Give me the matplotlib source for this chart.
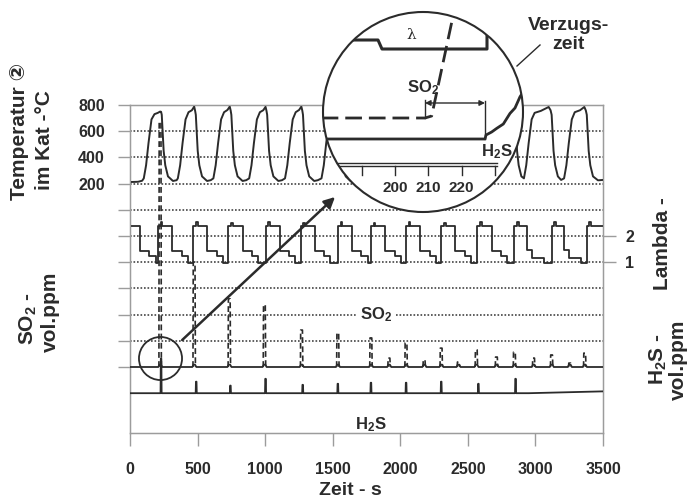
import matplotlib
matplotlib.use("Agg")
import matplotlib.pyplot as plt
from matplotlib.patches import Circle

plt.rcParams['font.family'] = ['Liberation Sans', 'DejaVu Sans', 'Noto Sans CJK JP']
plt.rcParams['font.weight'] = 'bold'
plt.rcParams['mathtext.fontset'] = 'custom'
plt.rcParams['mathtext.rm'] = 'Liberation Sans:bold'
plt.rcParams['mathtext.it'] = 'Liberation Sans:bold'
plt.rcParams['mathtext.bf'] = 'Liberation Sans:bold'

INK = '#2b2b2b'
GRID = '#444444'
FRAME = '#9c9c9c'

# ---- Achsen / Beschriftung ----
zeit_ticks = [0, 500, 1000, 1500, 2000, 2500, 3000, 3500]
temp_ticks = [200, 400, 600, 800]
temp_minor = [-1200, -1000, -800, -600, -400, -200, 0]
grid_levels = [600, 400, 200, 0, -200, -400, -600, -800, -1000]
lambda_ticks = [1, 2]

# ---- Temperatur im Kat (°C) ----
temp_t = [0, 60, 90,
          102, 119, 137, 159, 181, 206, 223, 230, 235, 241, 249, 261, 281, 318, 345,
          354, 371, 389, 411, 433, 458, 475, 482, 487, 493, 501, 513, 533, 570, 597,
          617, 634, 652, 674, 696, 721, 738, 745, 750, 756, 764, 776, 796, 833, 860,
          882, 899, 917, 939, 961, 986, 1003, 1010, 1015, 1021, 1029, 1041, 1061, 1098, 1125,
          1147, 1164, 1182, 1204, 1226, 1251, 1268, 1275, 1280, 1286, 1294, 1306, 1326, 1363, 1390,
          1417, 1434, 1452, 1474, 1496, 1521, 1538, 1545, 1550, 1556, 1564, 1576, 1596, 1633, 1660,
          1677, 1694, 1712, 1734, 1756, 1781, 1798, 1805, 1810, 1816, 1824, 1836, 1856, 1893, 1920,
          1937, 1954, 1972, 1994, 2016, 2041, 2058, 2065, 2070, 2076, 2084, 2096, 2116, 2153, 2180,
          2197, 2214, 2232, 2254, 2276, 2301, 2318, 2325, 2330, 2336, 2344, 2356, 2376, 2413, 2440,
          2457, 2474, 2492, 2514, 2536, 2561, 2578, 2585, 2590, 2596, 2604, 2616, 2636, 2673, 2700,
          2717, 2734, 2752, 2774, 2796, 2821, 2838, 2845, 2850, 2856, 2864, 2876, 2896,
          2915, 2932, 2950, 2972, 2994, 3040, 3098, 3112, 3120, 3126, 3134, 3146, 3166, 3190,
          3212, 3229, 3247, 3269, 3291, 3330, 3362, 3373, 3380, 3386, 3394, 3406, 3426, 3463, 3500]
temp_v = [212, 214, 222,
          240, 340, 510, 690, 730, 740, 750, 748, 725, 600, 450, 340, 255, 220, 226,
          240, 340, 510, 690, 745, 760, 788, 755, 725, 600, 450, 340, 255, 220, 226,
          240, 340, 510, 690, 745, 762, 788, 757, 725, 600, 450, 340, 255, 220, 226,
          240, 340, 510, 690, 745, 760, 786, 755, 725, 600, 450, 340, 255, 220, 226,
          240, 340, 510, 690, 745, 762, 788, 757, 725, 600, 450, 340, 255, 220, 226,
          240, 340, 510, 690, 745, 760, 785, 755, 725, 600, 450, 340, 255, 220, 226,
          240, 340, 510, 690, 745, 760, 785, 755, 725, 600, 450, 340, 255, 220, 226,
          240, 340, 510, 690, 745, 760, 785, 755, 725, 600, 450, 340, 255, 220, 226,
          240, 340, 510, 690, 745, 760, 785, 755, 725, 600, 450, 340, 255, 220, 226,
          240, 340, 510, 690, 745, 760, 785, 755, 725, 600, 450, 340, 255, 220, 226,
          240, 340, 510, 690, 745, 760, 785, 755, 725, 600, 450, 340, 255,
          240, 340, 510, 690, 740, 755, 785, 760, 725, 600, 450, 340, 255, 228,
          240, 340, 510, 690, 745, 760, 785, 758, 725, 600, 450, 340, 255, 225, 228]

# ---- Lambda (Stufen) ----
lam_t = [0, 75, 140, 190,
         208, 228, 240, 313, 383, 428,
         468, 488, 500, 573, 643, 688,
         728, 748, 760, 833, 903, 948,
         1003, 1023, 1035, 1108, 1178, 1223,
         1263, 1283, 1295, 1368, 1438, 1483,
         1538, 1558, 1570, 1643, 1713, 1758,
         1783, 1803, 1815, 1888, 1958, 2003,
         2043, 2063, 2075, 2148, 2218, 2263,
         2303, 2323, 2335, 2408, 2478, 2523,
         2571, 2591, 2603, 2676, 2746, 2791,
         2845, 2865, 2877, 2935, 2975, 3060,
         3120, 3140, 3152, 3210, 3250, 3335,
         3380, 3400, 3412, 3500]
lam_v = [2.38, 1.42, 1.22, 0.98,
         2.38, 2.52, 2.38, 1.42, 1.22, 0.98,
         2.38, 2.55, 2.38, 1.42, 1.22, 0.98,
         2.38, 2.50, 2.38, 1.42, 1.22, 0.98,
         2.38, 2.55, 2.38, 1.42, 1.22, 0.98,
         2.38, 2.50, 2.38, 1.42, 1.22, 0.98,
         2.38, 2.52, 2.38, 1.42, 1.22, 0.98,
         2.38, 2.50, 2.38, 1.42, 1.22, 0.98,
         2.38, 2.52, 2.38, 1.42, 1.22, 0.98,
         2.38, 2.50, 2.38, 1.42, 1.22, 0.98,
         2.38, 2.52, 2.38, 1.42, 1.22, 0.98,
         2.38, 2.55, 2.38, 1.45, 1.15, 0.98,
         2.38, 2.52, 2.38, 1.45, 1.15, 0.98,
         2.38, 2.55, 2.38, 2.38]

# ---- SO2-Spitzen (vol.ppm, Raster = 100) ----
so2_t = [223, 475, 735, 995, 1270, 1538, 1783, 1917, 2043, 2177, 2303, 2430,
         2563, 2712, 2845, 2987, 3120, 3254, 3365]
so2_h = [935, 400, 260, 237, 141, 130, 111, 34, 92, 27, 72, 19,
         65, 38, 57, 34, 46, 15, 53]

# ---- H2S-Spitzen ----
h2s_t = [230, 490, 743, 1003, 1278, 1538, 1783, 2043, 2303, 2578, 2853]
h2s_h = [132, 44, 29, 55, 32, 36, 40, 40, 44, 36, 55]
h2s_tail_t = [2950, 3500]
h2s_tail_v = [0, 7]

# ---- Lupe (Ausschnitt 180-238 s) ----
zoom_ticks = [190, 200, 210, 220, 230]
zoom_labels = ['', '200', '210', '220', '']
zoom_lam_t = [178, 194.9, 196.1, 227.6, 227.6]
zoom_lam_v = [86, 86, 81.5, 81.5, 100]
zoom_so2_t = [178, 209, 211, 218.7]
zoom_so2_v = [47, 47, 48, 108]
zoom_h2s_t = [178, 227, 227.3, 229, 230.5, 232.5, 234.5, 236, 237.5, 240]
zoom_h2s_v = [36.5, 36.5, 38.5, 40, 41.8, 44, 49.3, 52, 57.6, 64]
verzug = [209, 227]

W, H = 689, 498


def fx(px):
    return px / W


def fy(py):
    return 1 - py / H


fig = plt.figure(figsize=(6.89, 4.98), dpi=100)
ax = fig.add_axes([fx(130), fy(432.5), fx(603) - fx(130), fy(105) - fy(432.5)])
ax.set_xlim(0, 3500)
ax.set_ylim(-1700, 800)

for lvl in grid_levels:
    ax.axhline(lvl, color=GRID, lw=1.2, ls=(0, (1, 1.1)), zorder=1)

ax.set_xticks(zeit_ticks)
ax.set_xticklabels([str(v) for v in zeit_ticks])
ax.set_yticks(temp_ticks)
ax.set_yticklabels([str(v) for v in temp_ticks])
ax.set_yticks(temp_minor, minor=True)
ax.tick_params(axis='x', length=9, width=1, color=FRAME, pad=12, labelsize=11.5, labelcolor=INK)
ax.tick_params(axis='y', which='both', length=9, width=1, color=FRAME, pad=9, labelsize=11.5,
               labelcolor=INK)
for sp in ax.spines.values():
    sp.set_color(FRAME)
    sp.set_linewidth(1)

ax.plot(temp_t, temp_v, color=INK, lw=1.4, zorder=3)

ax.text(1820, -800, 'SO$_2$', ha='center', va='center', fontsize=12, color=INK,
        bbox=dict(fc='white', ec='none', pad=2.5), zorder=2)
ax.text(1783, -1643, 'H$_2$S', ha='center', va='center', fontsize=12, color=INK)

# Lambda
ax_lam = ax.twinx()
ax_lam.set_ylim(-5.5, 7)
ax_lam.set_yticks(lambda_ticks)
ax_lam.set_yticklabels([str(v) for v in lambda_ticks])
ax_lam.tick_params(axis='y', length=9, width=1, color=FRAME, pad=7, labelsize=11.5, labelcolor=INK)
for sp in ax_lam.spines.values():
    sp.set_color(FRAME)
ax_lam.plot(lam_t, lam_v, drawstyle='steps-post', color=INK, lw=1.3)

# SO2
ax_so2 = ax.twinx()
ax_so2.set_ylim(-250, 1000)
ax_so2.axis('off')
base_t, base_v = [0], [0]
for t, h in zip(so2_t, so2_h):
    base_t += [t - 14, t - 5, t + 6, t + 16]
    base_v += [0, min(h, 9), min(h, 9), 0]
base_t.append(3500)
base_v.append(0)
ax_so2.plot(base_t, base_v, color=INK, lw=1.3)
for t, h in zip(so2_t, so2_h):
    ax_so2.plot([t - 9, t - 7, t + 6, t + 9], [0, h, h, 0], color=INK, lw=1.2, dashes=(3.5, 2))

# H2S
ax_h2s = ax.twinx()
ax_h2s.set_ylim(-150, 1100)
ax_h2s.axis('off')
hs_t, hs_v = [0], [0]
for t, h in zip(h2s_t, h2s_h):
    hs_t += [t - 4, t - 2, t + 2, t + 4]
    hs_v += [0, h, h, 0]
hs_t += h2s_tail_t
hs_v += h2s_tail_v
ax_h2s.plot(hs_t, hs_v, color=INK, lw=1.3)

# kleiner Kreis um die erste Spitze
ax.plot([so2_t[0]], [-1135], 'o', ms=31, mfc='none', mec=INK, mew=1.3, zorder=4, clip_on=False)

# Lupe
ax_in = fig.add_axes([fx(323), fy(212), fx(523) - fx(323), fy(12) - fy(212)])
ax_in.set_xlim(178.4, 238.4)
ax_in.set_ylim(0, 100)
ax_in.axis('off')
lupe = Circle((0.5, 0.5), 0.5, transform=ax_in.transAxes, fc='white', ec=INK, lw=1.5,
              clip_on=False, zorder=0)
ax_in.add_patch(lupe)

lines = []
lines += ax_in.plot(zoom_lam_t, zoom_lam_v, color=INK, lw=2.2)
lines += ax_in.plot(zoom_so2_t, zoom_so2_v, color=INK, lw=2, dashes=(6, 2.5))
lines += ax_in.plot(zoom_h2s_t, zoom_h2s_v, color=INK, lw=2)
lines += ax_in.plot([verzug[0], verzug[0]], [47, 56], color=INK, lw=1)
lines += ax_in.plot([verzug[1], verzug[1]], [36.5, 55.5], color=INK, lw=1)
lines += ax_in.plot([183, 230.6], [24.5, 24.5], color=INK, lw=1)
lines += ax_in.plot([183, 230.6], [23, 23], color=INK, lw=1)
for t in zoom_ticks:
    lines += ax_in.plot([t, t], [23, 18.5], color=INK, lw=1)
for ln in lines:
    ln.set_clip_path(lupe)
ax_in.annotate('', xy=(verzug[0], 54.5), xytext=(verzug[1], 54.5),
               arrowprops=dict(arrowstyle='<|-|>', lw=1, color=INK, mutation_scale=8,
                               shrinkA=0, shrinkB=0))
for t, lab in zip(zoom_ticks, zoom_labels):
    ax_in.text(t, 12, lab, ha='center', va='center', fontsize=11, color=INK)
ax_in.text(205, 88.5, 'λ', ha='center', va='center', fontsize=11, color=INK,
           family='DejaVu Serif', fontweight='normal')
ax_in.text(208.4, 62, 'SO$_2$', ha='center', va='center', fontsize=12, color=INK)
ax_in.text(230.6, 30, 'H$_2$S', ha='center', va='center', fontsize=12, color=INK)
ax_in.plot([0.97, 1.085], [0.73, 0.835], transform=ax_in.transAxes, clip_on=False,
           color=INK, lw=1)
ax_in.text(1.225, 0.885, 'Verzugs-\nzeit', transform=ax_in.transAxes, ha='center',
           va='center', fontsize=14, color=INK, linespacing=1.15)

# Pfeil von kleinem Kreis zur Lupe
ax_h2s.annotate('', xy=(0.06, 0.075), xycoords=ax_in.transAxes,
                xytext=(386, -994), textcoords=ax.transData,
                arrowprops=dict(arrowstyle='-|>', lw=1.8, color=INK, mutation_scale=16,
                                shrinkA=0, shrinkB=0),
                annotation_clip=False)


def ftext(px, py, s, **kw):
    fig.text(fx(px), fy(py), s, color=INK, **kw)


ftext(20, 200, 'Temperatur ②', rotation=90, ha='center', va='bottom', fontsize=15)
ftext(45, 190, 'im Kat -°C', rotation=90, ha='center', va='bottom', fontsize=15)
ftext(28, 345, 'SO$_2$ -', rotation=90, ha='center', va='bottom', fontsize=15)
ftext(50, 352, 'vol.ppm', rotation=90, ha='center', va='bottom', fontsize=15)
ftext(662, 290, 'Lambda -', rotation=90, ha='center', va='bottom', fontsize=15)
ftext(658, 385, 'H$_2$S -', rotation=90, ha='center', va='bottom', fontsize=15)
ftext(678, 400, 'vol.ppm', rotation=90, ha='center', va='bottom', fontsize=15)
ftext(350, 490, 'Zeit - s', ha='center', va='center', fontsize=14)

fig.savefig('out.png', dpi=100)
